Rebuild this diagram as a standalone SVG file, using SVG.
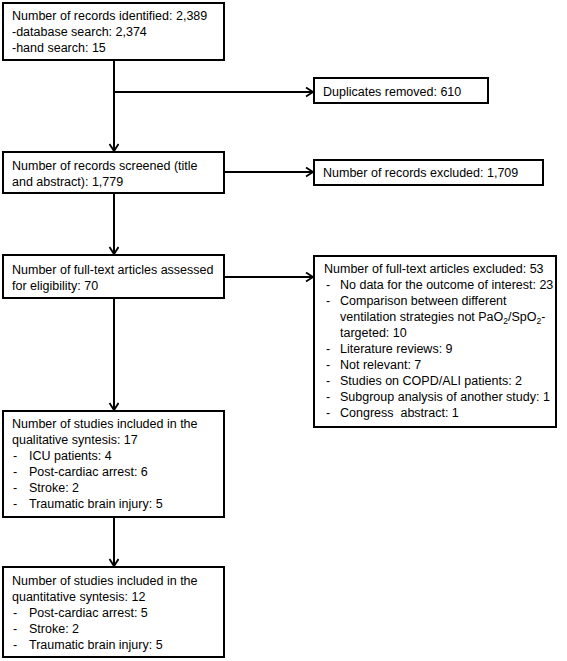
<svg xmlns="http://www.w3.org/2000/svg" width="567" height="661" viewBox="0 0 567 661">
<style>
.box{fill:#fff;stroke:#000;stroke-width:2}
text{font-family:"Liberation Sans",Arial,sans-serif;font-size:12.5px;fill:#000}
.c{fill:none;stroke:#000;stroke-width:2}
.sub{font-size:8.5px}
</style>
<defs>
<marker id="ah" markerWidth="10" markerHeight="12" refX="8" refY="5" orient="auto" markerUnits="userSpaceOnUse">
<path d="M1,0.5 L8,5 L1,9.5" fill="none" stroke="#000" stroke-width="1.8"/>
</marker>
</defs>
<rect width="567" height="661" fill="#fff"/>
<g id="connectors">
<path class="c" d="M114,60 V151" marker-end="url(#ah)"/>
<path class="c" d="M114,92 H313" marker-end="url(#ah)"/>
<path class="c" d="M224,172 H313" marker-end="url(#ah)"/>
<path class="c" d="M114,193 V254" marker-end="url(#ah)"/>
<path class="c" d="M224,277 H313" marker-end="url(#ah)"/>
<path class="c" d="M114,298 V410" marker-end="url(#ah)"/>
<path class="c" d="M114,517 V566" marker-end="url(#ah)"/>
</g>
<g id="identified">
<rect class="box" x="3" y="3" width="221" height="57"/>
<text x="12" y="20">Number of records identified: 2,389</text>
<text x="12" y="36">-database search: 2,374</text>
<text x="12" y="52">-hand search: 15</text>
</g>
<g id="duplicates">
<rect class="box" x="314" y="78" width="174" height="25"/>
<text x="323" y="96">Duplicates removed: 610</text>
</g>
<g id="screened">
<rect class="box" x="3" y="152" width="221" height="41"/>
<text x="12" y="170">Number of records screened (title</text>
<text x="12" y="186">and abstract): 1,779</text>
</g>
<g id="excluded">
<rect class="box" x="314" y="160" width="229" height="25"/>
<text x="323" y="177">Number of records excluded: 1,709</text>
</g>
<g id="fulltext">
<rect class="box" x="3" y="255" width="221" height="43"/>
<text x="12" y="274">Number of full-text articles assessed</text>
<text x="12" y="290">for eligibility: 70</text>
</g>
<g id="fulltext-excluded">
<rect class="box" x="314" y="256" width="242" height="171"/>
<text x="324" y="273">Number of full-text articles excluded: 53</text>
<text x="326" y="289">-</text><text x="340" y="289">No data for the outcome of interest: 23</text>
<text x="326" y="305">-</text><text x="340" y="305">Comparison between different</text>
<text x="340" y="321">ventilation strategies not PaO<tspan class="sub" dy="3">2</tspan><tspan dy="-3">/SpO</tspan><tspan class="sub" dy="3">2</tspan><tspan dy="-3">-</tspan></text>
<text x="340" y="337">targeted: 10</text>
<text x="326" y="353">-</text><text x="340" y="353">Literature reviews: 9</text>
<text x="326" y="369">-</text><text x="340" y="369">Not relevant: 7</text>
<text x="326" y="385">-</text><text x="340" y="385">Studies on COPD/ALI patients: 2</text>
<text x="326" y="401">-</text><text x="340" y="401">Subgroup analysis of another study: 1</text>
<text x="326" y="417">-</text><text x="340" y="417" style="white-space:pre">Congress  abstract: 1</text>
</g>
<g id="qualitative">
<rect class="box" x="3" y="411" width="221" height="106"/>
<text x="12" y="428">Number of studies included in the</text>
<text x="12" y="444">qualitative syntesis: 17</text>
<text x="13" y="460">-</text><text x="29" y="460">ICU patients: 4</text>
<text x="13" y="476">-</text><text x="29" y="476">Post-cardiac arrest: 6</text>
<text x="13" y="492">-</text><text x="29" y="492">Stroke: 2</text>
<text x="13" y="508">-</text><text x="29" y="508">Traumatic brain injury: 5</text>
</g>
<g id="quantitative">
<rect class="box" x="3" y="567" width="221" height="90"/>
<text x="12" y="585">Number of studies included in the</text>
<text x="12" y="601">quantitative syntesis: 12</text>
<text x="13" y="617">-</text><text x="29" y="617">Post-cardiac arrest: 5</text>
<text x="13" y="633">-</text><text x="29" y="633">Stroke: 2</text>
<text x="13" y="649">-</text><text x="29" y="649">Traumatic brain injury: 5</text>
</g>
</svg>
